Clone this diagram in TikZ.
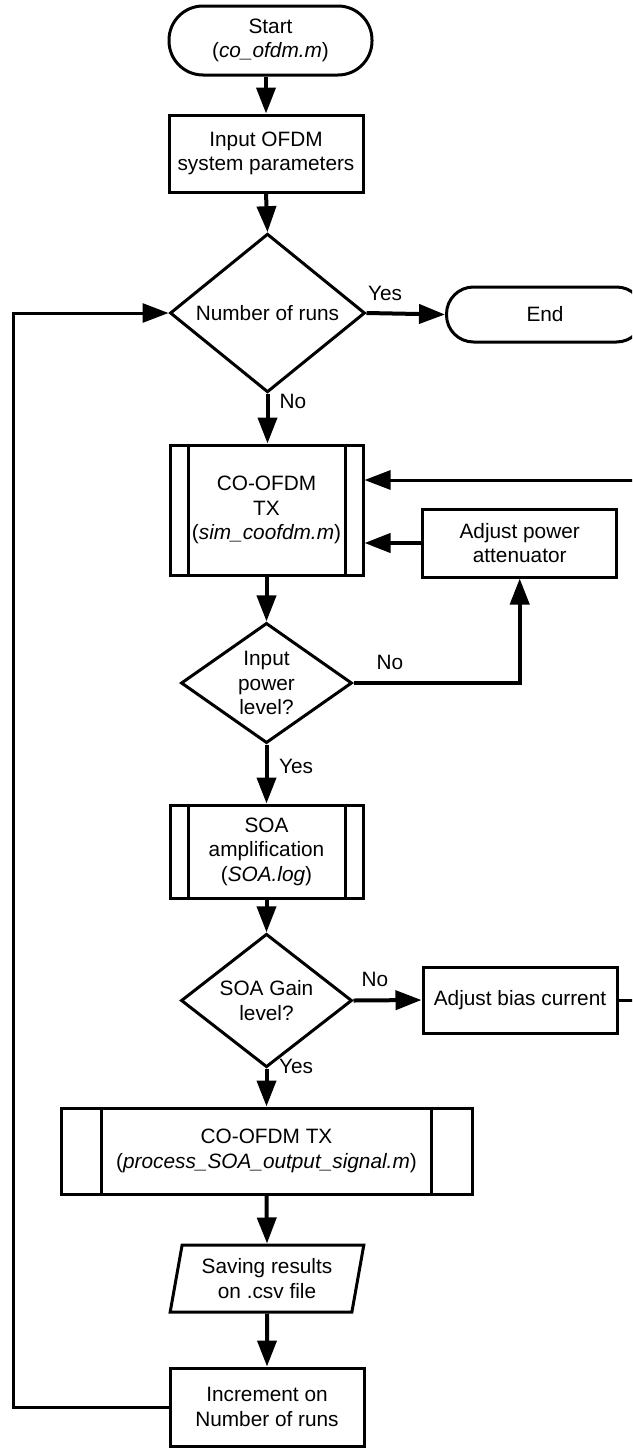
\documentclass[tikz,border=0pt]{standalone}
\usepackage{fontspec}
\setmainfont{Liberation Sans}
\usetikzlibrary{arrows.meta,shapes.geometric}

\begin{document}
\begin{tikzpicture}[x=1pt,y=-1pt,
  every node/.style={font=\fontsize{20.8}{24.5}\selectfont, align=center},
  base/.style={draw, line width=3pt, inner sep=0pt},
  proc/.style={base, rectangle},
  term/.style={base, rectangle, rounded corners=#1},
  dec/.style={base, diamond},
  io/.style={base, trapezium, trapezium left angle=77, trapezium right angle=103, trapezium stretches=true},
  arr/.style={line width=4pt, -{Triangle[length=26pt,width=19pt]}},
  thinarr/.style={line width=3pt, -{Triangle[length=26pt,width=19pt]}},
  lbl/.style={inner sep=0pt}
]
\useasboundingbox (0,0) rectangle (632,1451);
\clip (0,0) rectangle (632,1451);

% main column
\node[term=34, minimum width=203pt, minimum height=69pt] (start) at (270.5,40.5) {Start\\(\textit{co\_ofdm.m})};
\node[proc, minimum width=194pt, minimum height=77pt] (input) at (266,153.5) {Input OFDM\\system parameters};
\node[dec, minimum width=195pt, minimum height=153pt] (d1) at (267.5,313) {Number of runs};
\node[term=27, minimum width=197pt, minimum height=55pt] (stop) at (545,314.5) {End};
\node[proc, minimum width=193pt, minimum height=130pt] (tx1) at (266.5,510) {CO-OFDM\\TX\\(\textit{sim\_coofdm.m})};
\node[proc, minimum width=194pt, minimum height=68pt] (att) at (519.7,543) {Adjust power\\attenuator};
\node[dec, minimum width=171pt, minimum height=108pt] (d2) at (266.5,683) {Input\\power\\level?};
\node[proc, minimum width=193pt, minimum height=93pt] (soa) at (266.5,851.5) {SOA\\amplification\\(\textit{SOA.log})};
\node[dec, minimum width=171pt, minimum height=109pt] (d3) at (266.5,1000.5) {SOA Gain\\level?};
\node[proc, minimum width=194pt, minimum height=66pt] (bias) at (520,1000) {Adjust bias current};
\node[proc, minimum width=411pt, minimum height=86pt] (tx2) at (266.5,1151) {CO-OFDM TX\\(\textit{process\_SOA\_output\_signal.m})};
\node[io, minimum width=194pt, minimum height=67pt] (save) at (267,1278.5) {Saving results\\on .csv file};
\node[proc, minimum width=194pt, minimum height=78pt] (inc) at (267,1407) {Increment on\\Number of runs};

% side bars of the predefined-process boxes
\foreach \n/\d in {tx1/19.5, soa/19.5, tx2/42}{
  \draw[line width=3pt] ([xshift=\d pt]\n.north west) -- ([xshift=\d pt]\n.south west);
  \draw[line width=3pt] ([xshift=-\d pt]\n.north east) -- ([xshift=-\d pt]\n.south east);
}

% flow connectors
\draw[arr] (input.north |- start.south) -- (input.north);
\draw[arr] (input.south) -- (d1.north);
\draw[arr] (d1.east) -- (stop.west);
\draw[arr] (d1.south) -- (d1.south |- tx1.north);
\draw[arr] (d2.north |- tx1.south) -- (d2.north);
\draw[arr] (att.west) -- (att.west -| tx1.east);
\draw[arr] (d2.east) -| (att.south);
\draw[arr] (d2.south) -- (soa.north);
\draw[arr] (soa.south) -- (d3.north);
\draw[arr] (d3.east) -- (bias.west);
\draw[arr] (d3.south) -- (tx2.north);
\draw[arr] (tx2.south) -- (save.north);
\draw[arr] (save.south) -- (inc.north);

% return paths
\coordinate (rr) at (660,480);
\draw[thinarr] (bias.east) -| (rr) -- (rr -| tx1.east);
\coordinate (ll) at (13,0);
\draw[thinarr] (inc.west) -- (inc.west -| ll) -- (ll |- d1.west) -- (d1.west);

% branch labels
\node[lbl] (l1) at (385,293) {Yes};
\node[lbl] (l2) at (293,401) {No};
\node[lbl] (l3) at (390,662) {No};
\node[lbl] (l4) at (296,766) {Yes};
\node[lbl] (l5) at (375,979) {No};
\node[lbl] (l6) at (296,1066) {Yes};
\end{tikzpicture}
\end{document}
